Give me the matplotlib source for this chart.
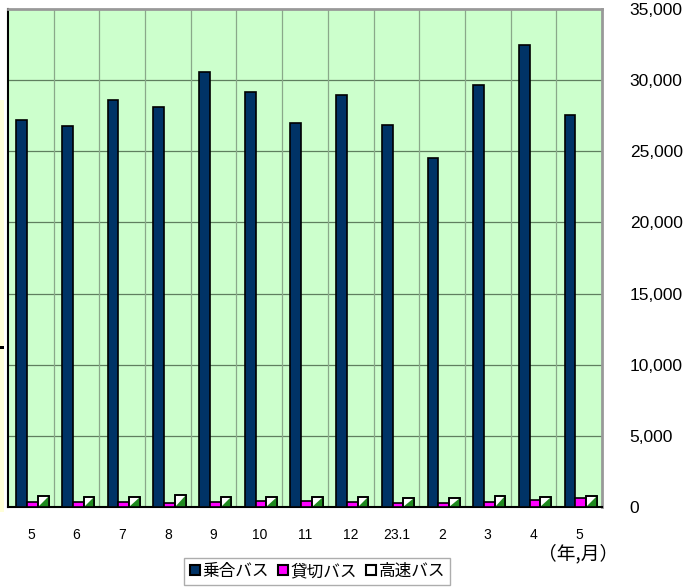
import matplotlib
matplotlib.use("Agg")
import matplotlib.pyplot as plt
from matplotlib.patches import Polygon, Rectangle
from matplotlib.lines import Line2D
import numpy as np

months = ["5", "6", "7", "8", "9", "10", "11", "12", "23.1", "2", "3", "4", "5"]
noriai = [27200, 26780, 28600, 28100, 30570, 29170, 26990, 28960, 26850, 24530, 29660, 32470, 27550]
kashikiri = [380, 380, 350, 310, 350, 420, 400, 380, 300, 300, 330, 520, 660]
kousoku = [760, 700, 700, 850, 700, 720, 700, 680, 620, 650, 800, 720, 760]
series_names = ["乗合バス", "貸切バス", "高速バス"]
yticks = [0, 5000, 10000, 15000, 20000, 25000, 30000, 35000]

W, H = 689, 587
fig = plt.figure(figsize=(W / 100, H / 100), dpi=100)
fig.patch.set_facecolor("white")

# stray strip at left edge
fig.patches.append(Rectangle((0, 1 - 512 / H), 4 / W, (512 - 100) / H,
                             transform=fig.transFigure, facecolor="#ffffd8",
                             edgecolor="none", zorder=0))
fig.patches.append(Rectangle((0, 1 - 349 / H), 4 / W, 3 / H,
                             transform=fig.transFigure, facecolor="black",
                             edgecolor="none", zorder=1))

ax = fig.add_axes([8 / W, (H - 507) / H, 594 / W, 498 / H])
ax.set_facecolor("#ccffcc")

n = len(months)
x = np.arange(n)
bw = 0.235
b1 = ax.bar(x + 0.30, noriai, bw, color="#003366", edgecolor="black", linewidth=1.2, zorder=3)
b2 = ax.bar(x + 0.535, kashikiri, bw, color="#ff00ff", edgecolor="black", linewidth=1.2, zorder=3)
b3 = ax.bar(x + 0.77, kousoku, bw, color="white", edgecolor="black", linewidth=1.2, zorder=3)
for r in b3:
    x0, y0 = r.get_x(), r.get_y()
    x1, y1 = x0 + r.get_width(), y0 + r.get_height()
    ax.add_patch(Polygon([(x0, y0), (x1, y0), (x1, y1)], closed=True,
                         facecolor="#1f8a1f", edgecolor="none", zorder=3.5))
    ax.add_patch(Rectangle((x0, y0), r.get_width(), r.get_height(), facecolor="none",
                           edgecolor="black", linewidth=1.2, zorder=4))

ax.set_xlim(0, n)
ax.set_ylim(0, 35000)

for v in yticks[1:-1]:
    ax.axhline(v, color="#5f7f5f", linewidth=0.9, zorder=1)
for i in range(1, n):
    ax.axvline(i, color="#8aa88a", linewidth=0.9, zorder=1)

ax.set_xticks(x + 0.5)
ax.set_xticklabels(months, fontsize=10, family=["Liberation Sans", "Noto Sans CJK JP"])
ax.tick_params(axis="x", length=0, pad=15)

ax.yaxis.tick_right()
ax.set_yticks(yticks)
ax.set_yticklabels([f"{v:,}" for v in yticks], fontsize=12.5,
                   family=["Liberation Sans", "Noto Sans CJK JP"])
ax.tick_params(axis="y", length=0, pad=20)

for s in ["left", "bottom"]:
    ax.spines[s].set_color("black")
    ax.spines[s].set_linewidth(1.5)
for s in ["top", "right"]:
    ax.spines[s].set_color("#999999")
    ax.spines[s].set_linewidth(2)

fig.text(578 / W, 1 - 554 / H, "（年,月）", ha="center", va="center", fontsize=13.5,
         family=["Noto Sans CJK JP", "DejaVu Sans"])

handles = [
    Line2D([], [], linestyle="none", marker="s", markersize=7, markerfacecolor="#003366",
           markeredgecolor="black", markeredgewidth=1.5),
    Line2D([], [], linestyle="none", marker="s", markersize=7, markerfacecolor="#ff00ff",
           markeredgecolor="black", markeredgewidth=1.5),
    Line2D([], [], linestyle="none", marker="s", markersize=7, markerfacecolor="white",
           markeredgecolor="black", markeredgewidth=1.5),
]
leg = fig.legend(handles, series_names, loc="upper left",
                 bbox_to_anchor=(184 / W, 1 - 558 / H), ncol=3,
                 prop={"family": ["Noto Sans CJK JP", "DejaVu Sans"], "size": 12},
                 frameon=True, fancybox=False, edgecolor="#999999",
                 handlelength=0.7, handletextpad=0.1, columnspacing=0.5,
                 borderpad=0.3, borderaxespad=0)
leg.get_frame().set_linewidth(1.0)

fig.savefig("out.png", dpi=100)
